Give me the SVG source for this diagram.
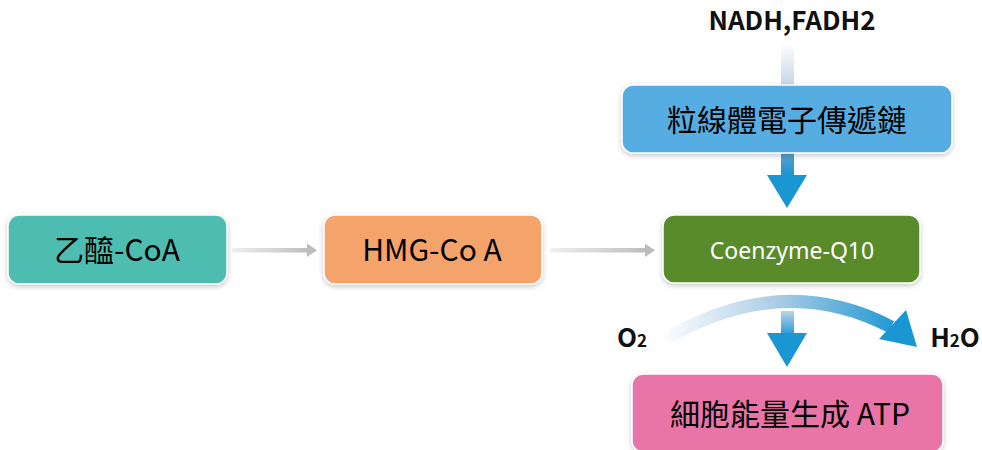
<svg xmlns="http://www.w3.org/2000/svg" width="982" height="450" viewBox="0 0 982 450">
<style>
.box{stroke:#ffffff;stroke-width:1.5;filter:url(#sh)}
.cjk{font-family:"Noto Sans CJK TC","Noto Sans",sans-serif;font-size:30px;fill:#000;text-anchor:middle}
.lbl{font-family:"Noto Sans CJK TC","Noto Sans",sans-serif;font-weight:bold;font-size:26px;fill:#111;text-anchor:middle}
.q{font-family:"Noto Sans","Noto Sans CJK TC",sans-serif;font-size:23px;fill:#fff;text-anchor:middle}
</style>
<defs>
<filter id="sh" x="-10%" y="-20%" width="120%" height="150%">
<feDropShadow dx="0" dy="2" stdDeviation="2.5" flood-color="#000" flood-opacity="0.22"/>
</filter>
<linearGradient id="gl1" gradientUnits="userSpaceOnUse" x1="232" y1="0" x2="310" y2="0">
<stop offset="0" stop-color="#f0f0f0"/><stop offset="1" stop-color="#bcbcbc"/>
</linearGradient>
<linearGradient id="gl2" gradientUnits="userSpaceOnUse" x1="550" y1="0" x2="648" y2="0">
<stop offset="0" stop-color="#f0f0f0"/><stop offset="1" stop-color="#bcbcbc"/>
</linearGradient>
<linearGradient id="gtop" x1="0" y1="0" x2="0" y2="1">
<stop offset="0" stop-color="#ffffff"/><stop offset="1" stop-color="#c6d6e6"/>
</linearGradient>
<linearGradient id="gshaft" x1="0" y1="0" x2="0" y2="1">
<stop offset="0" stop-color="#5d9ecb"/><stop offset="1" stop-color="#1a96d2"/>
</linearGradient>
<linearGradient id="gshaft2" x1="0" y1="0" x2="0" y2="1">
<stop offset="0" stop-color="#b9d4ea"/><stop offset="1" stop-color="#2a9bd4"/>
</linearGradient>
<linearGradient id="garc" gradientUnits="userSpaceOnUse" x1="660" y1="0" x2="900" y2="0">
<stop offset="0" stop-color="#ffffff"/><stop offset="0.5" stop-color="#a9cbe4"/><stop offset="1" stop-color="#1a96d2"/>
</linearGradient>
</defs>

<g id="connectors">
<rect x="232" y="248" width="77" height="4.5" fill="url(#gl1)"/>
<polygon points="307,243.5 317,250.2 307,257" fill="#bcbcbc"/>
<rect x="550" y="248" width="97" height="4.5" fill="url(#gl2)"/>
<polygon points="645,243.5 655,250.2 645,257" fill="#bcbcbc"/>
<rect x="781" y="43" width="13" height="42" fill="url(#gtop)"/>
<rect x="781" y="153" width="13" height="23" fill="url(#gshaft)"/>
<polygon points="767,175 807,175 787,208" fill="#1a96d2"/>
<path d="M664 340 Q782 270 891 327" stroke="url(#garc)" stroke-width="13" fill="none"/>
<polygon points="879,339 906,310 917,347" fill="#1a96d2"/>
<rect x="781" y="311" width="13" height="23" fill="url(#gshaft2)"/>
<polygon points="767,333 807,333 787,367" fill="#1a96d2"/>
</g>

<g id="acetyl">
<rect class="box" x="8" y="215" width="219" height="69" rx="11" fill="#4ebdb1"/>
<text class="cjk" x="117" y="261">乙醯-CoA</text>
</g>
<g id="hmg">
<rect class="box" x="324" y="215" width="218" height="69" rx="11" fill="#f4a36b"/>
<text class="cjk" x="432" y="261">HMG-Co A</text>
</g>
<g id="coq10">
<rect class="box" x="663" y="215" width="257" height="68" rx="11" fill="#5a8b2b"/>
<text class="q" x="792" y="259">Coenzyme-Q10</text>
</g>
<g id="etc">
<rect class="box" x="622" y="85" width="330" height="68" rx="11" fill="#56ade1"/>
<text class="cjk" x="787" y="131" font-size="32">粒線體電子傳遞鏈</text>
</g>
<g id="atp">
<rect class="box" x="632" y="374" width="311" height="78" rx="11" fill="#e974a8"/>
<text class="cjk" x="790" y="425" font-size="31">細胞能量生成 ATP</text>
</g>
<g id="labels">
<text class="lbl" x="792" y="30">NADH,FADH2</text>
<text class="lbl" x="632" y="347">O<tspan font-size="17">2</tspan></text>
<text class="lbl" x="955" y="347">H<tspan font-size="17">2</tspan>O</text>
</g>
</svg>
